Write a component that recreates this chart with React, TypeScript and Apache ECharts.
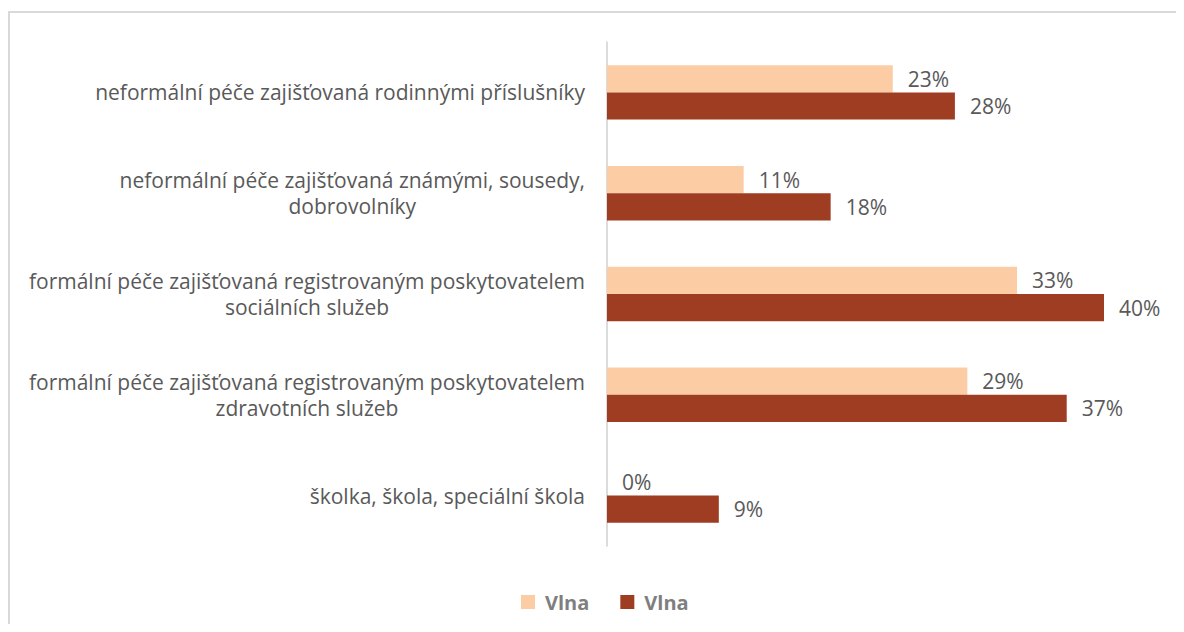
import React, { useEffect, useRef } from "react";
import * as echarts from "echarts";

const categories = [
  "neformální péče zajišťovaná rodinnými příslušníky",
  "neformální péče zajišťovaná známými, sousedy,\ndobrovolníky",
  "formální péče zajišťovaná registrovaným poskytovatelem\nsociálních služeb",
  "formální péče zajišťovaná registrovaným poskytovatelem\nzdravotních služeb",
  "školka, škola, speciální škola",
];
const seriesNames = ["Vlna 1", "Vlna 2"];
const legendLabels = ["Vlna", "Vlna"];
const wave1 = [23, 11, 33, 29, 0];
const wave2 = [28, 18, 40, 37, 9];

const FONT = "'Open Sans', 'Liberation Sans', sans-serif";

export default function App() {
  const ref = useRef<HTMLDivElement>(null);
  useEffect(() => {
    if (!ref.current) return;
    const chart = echarts.init(ref.current, undefined, { renderer: "svg" });
    const labelCfg = {
      show: true,
      position: "right",
      distance: 15,
      formatter: "{c}%",
      color: "#595959",
      fontSize: 21,
      fontFamily: FONT,
    };
    chart.setOption({
      animation: false,
      backgroundColor: "#fff",
      graphic: [
        {
          type: "rect",
          shape: { x: 9, y: 12, width: 1300, height: 800 },
          style: { fill: "none", stroke: "#d9d9d9", lineWidth: 2 },
          silent: true,
        },
      ],
      grid: { left: 607, right: 80, top: 42, bottom: 86 },
      legend: {
        top: 587,
        left: 516,
        itemWidth: 14,
        itemHeight: 14,
        itemGap: 31,
        icon: "rect",
        data: seriesNames,
        formatter: (n: string) => legendLabels[seriesNames.indexOf(n)],
        textStyle: {
          color: "#7f7f7f",
          fontSize: 20,
          fontWeight: "bold",
          fontFamily: FONT,
          padding: [0, 0, 0, 5],
        },
      },
      xAxis: {
        type: "value",
        min: 0,
        max: 40,
        show: false,
      },
      yAxis: {
        type: "category",
        inverse: true,
        data: categories,
        axisTick: { show: false },
        axisLine: { show: true, lineStyle: { color: "#d0d0d0", width: 1.5 } },
        axisLabel: {
          margin: 22,
          lineHeight: 26,
          formatter: (v: string) =>
            v
              .split("\n")
              .map((l) => `{c|${l}}`)
              .join("\n"),
          rich: {
            c: {
              align: "center",
              color: "#595959",
              fontSize: 21,
              fontFamily: FONT,
              lineHeight: 26,
            },
          },
        },
      },
      series: [
        {
          name: seriesNames[0],
          type: "bar",
          data: wave1,
          barGap: "0%",
          barCategoryGap: "46%",
          itemStyle: { color: "#FCCDA5" },
          label: labelCfg,
        },
        {
          name: seriesNames[1],
          type: "bar",
          data: wave2,
          barGap: "0%",
          barCategoryGap: "46%",
          itemStyle: { color: "#9E3D22" },
          label: labelCfg,
        },
      ],
    });
    return () => chart.dispose();
  }, []);
  return <div ref={ref} style={{ width: 1184, height: 632, margin: -8 }} />;
}
